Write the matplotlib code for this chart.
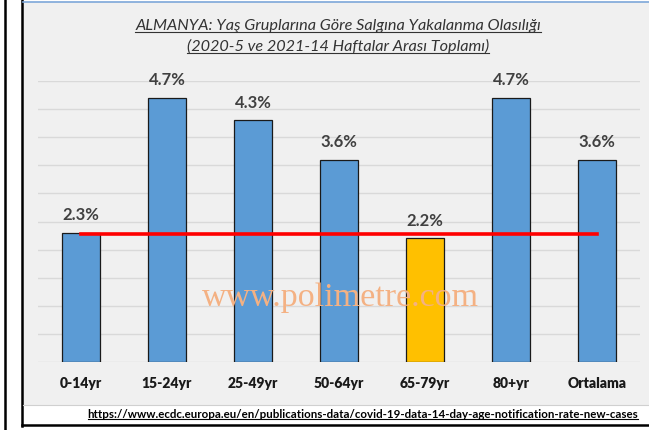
import matplotlib.pyplot as plt
from matplotlib.patches import Rectangle
from matplotlib.lines import Line2D

# Almanya yas gruplarina gore yakalanma orani (%)
categories = ['0-14yr', '15-24yr', '25-49yr', '50-64yr', '65-79yr', '80+yr', 'Ortalama']
rates = [2.3, 4.7, 4.3, 3.6, 2.2, 4.7, 3.6]
bar_colors = ['#5b9bd5', '#5b9bd5', '#5b9bd5', '#5b9bd5', '#ffc000', '#5b9bd5', '#5b9bd5']
ref_level = 2.27

title_1 = 'ALMANYA: Yaş Gruplarına Göre Salgına Yakalanma Olasılığı'
title_2 = '(2020-5 ve 2021-14 Haftalar Arası Toplamı)'
source_url = 'https://www.ecdc.europa.eu/en/publications-data/covid-19-data-14-day-age-notification-rate-new-cases'
watermark = 'www.polimetre.com'

plt.rcParams['font.family'] = ['Lato', 'DejaVu Sans']

W, H = 649, 430
fig = plt.figure(figsize=(W / 100, H / 100), dpi=100)
fig.patch.set_facecolor('white')


def px(x, y):
    # pixel (from top-left) -> figure fraction
    return x / W, 1 - y / H


# chart panel background and frame lines
x0, y0 = px(23, 405)
fig.add_artist(Rectangle((x0, y0), 1 - x0, (405 - 2) / H, facecolor='#f0f0f0',
                         edgecolor='none', transform=fig.transFigure, zorder=0))
fig.add_artist(Line2D([px(22, 0)[0]] * 2, [px(0, 426)[1], 1], color='black', lw=1.8,
                      transform=fig.transFigure))
fig.add_artist(Line2D([px(5, 0)[0]] * 2, [0, 1], color='black', lw=1.8,
                      transform=fig.transFigure))
fig.add_artist(Line2D([px(22, 0)[0], 1], [px(0, 425)[1]] * 2, color='black', lw=1.8,
                      transform=fig.transFigure))
fig.add_artist(Line2D([px(23, 0)[0], 1], [px(0, 1.5)[1]] * 2, color='#7da7d9', lw=1.2,
                      transform=fig.transFigure))
fig.add_artist(Line2D([px(23, 0)[0], 1], [px(0, 405)[1]] * 2, color='#d0d0d0', lw=0.8,
                      transform=fig.transFigure))

ax = fig.add_axes([38 / W, (H - 362) / H, (640 - 38) / W, (362 - 81) / H])
ax.set_facecolor('none')

xs = range(len(categories))
ax.bar(xs, rates, width=0.44, color=bar_colors, edgecolor='#1a1a1a', linewidth=0.9, zorder=2)
ax.plot([0, len(categories) - 1], [ref_level, ref_level], color='#ff0000', lw=2.6, zorder=3)

for i, v in enumerate(rates):
    ax.annotate(f'{v:.1f}%', (i, v), xytext=(0, 7), textcoords='offset points',
                ha='center', va='bottom', fontsize=12, fontweight='bold', color='#404040')

ax.set_xlim(-0.5, len(categories) - 0.5)
ax.set_ylim(0, 5)
ax.set_yticks([i * 0.5 for i in range(11)])
ax.set_yticklabels([])
ax.grid(axis='y', color='#d9d9d9', lw=1, zorder=0)
ax.set_axisbelow(True)
ax.set_xticks(list(xs))
ax.set_xticklabels(categories, fontsize=10, fontweight='heavy', color='#1a1a1a')
ax.tick_params(length=0, pad=11)
for s in ax.spines.values():
    s.set_visible(False)

t1 = fig.text(*px(338, 26), title_1, ha='center', va='center', fontsize=11.7,
              style='italic', color='#333333')
t2 = fig.text(*px(338, 46), title_2, ha='center', va='center', fontsize=11.7,
              style='italic', color='#333333')
t3 = fig.text(*px(363, 414), source_url, ha='center', va='center', fontsize=8.3,
              fontweight='bold', color='black')

fig.text(*px(340, 298), watermark, ha='center', va='center', fontsize=24.5,
         family='Liberation Serif', color='#f4b183', zorder=10)

# underline the title lines and the source
fig.canvas.draw()
inv = fig.transFigure.inverted()
for t, c in [(t1, '#333333'), (t2, '#333333'), (t3, 'black')]:
    bb = t.get_window_extent()
    (a, b), (c2, d) = inv.transform([(bb.x0, bb.y0 + 1), (bb.x1, bb.y0 + 1)])
    fig.add_artist(Line2D([a, c2], [b, d], color=c, lw=0.8, transform=fig.transFigure))

fig.savefig('out.png', dpi=100)
